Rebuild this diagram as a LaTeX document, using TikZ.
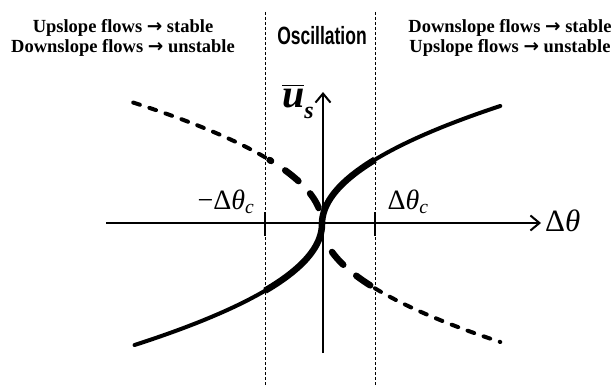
\documentclass[tikz,border=0pt]{standalone}
\usepackage{amsmath}
\usepackage{fontspec}
\setmainfont{Liberation Serif}
\newfontfamily\oscfont[FakeStretch=0.7]{Liberation Sans}
\newfontfamily\arrowfont{DejaVu Sans}
\newcommand{\toarr}{{\arrowfont\bfseries →}}
\usetikzlibrary{arrows.meta, positioning}

\begin{document}
\begin{tikzpicture}[
    x=1pt, y=-1pt,
    every node/.style={inner sep=0pt, align=center},
    axis/.style={line width=2pt, -{Straight Barb[length=9pt, width=15pt]}},
    guide/.style={line width=1pt, dash pattern=on 3pt off 2pt},
    tick/.style={line width=2.5pt},
    stab/.style={line width=6.5pt},
    stabthin/.style={line width=4pt, line cap=round},
    unst/.style={line width=6.5pt, line cap=round, dash pattern=on 17pt off 17pt},
    unstthin/.style={line width=4pt, line cap=round, dash pattern=on 7pt off 10pt},
    head/.style={font=\fontsize{18.5}{20}\selectfont\bfseries},
    lab/.style={font=\fontsize{31}{32}\selectfont}
]
\useasboundingbox (0,0) rectangle (615,385);

% Regime labels
\node[head] (upleft) at (123,38) {Upslope flows \toarr{} stable\\Downslope flows \toarr{} unstable};
\node[head] (upright) at (510,38) {Downslope flows \toarr{} stable\\Upslope flows \toarr{} unstable};
\node[font=\oscfont\fontsize{25}{26}\selectfont\bfseries] (osc) at (322,36) {Oscillation};

% Guides at the critical angle
\coordinate (gltop) at (265,12);
\coordinate (glbot) at (265,385);
\coordinate (grtop) at (375,12);
\coordinate (grbot) at (375,385);
\draw[guide] (gltop) -- (glbot);
\draw[guide] (grtop) -- (grbot);

% Axes
\coordinate (xl) at (106,223);
\coordinate (xr) at (541,223);
\coordinate (yb) at (323,353);
\coordinate (yt) at (323,92);
\draw[axis] (xl) -- (xr);
\draw[axis] (yb) -- (yt);
\draw[tick] (265,212) -- (265,236);
\draw[tick] (375,212) -- (375,236);

% Axis labels
\node[lab, anchor=west] (dth) at (545,221) {Δ\textit{θ}};
\node[font=\fontsize{28}{30}\selectfont] (dthr) at (408,202) {Δ\textit{θ}\textsubscript{\textit{c}}};
\node[font=\fontsize{28}{30}\selectfont] (dthl) at (226,202) {−Δ\textit{θ}\textsubscript{\textit{c}}};
\node (us) at (298,101) {{\fontsize{40}{42}\selectfont$\overline{\text{\bfseries\itshape u}}$}\raisebox{-11pt}{\fontsize{24}{26}\selectfont\bfseries\itshape s}};

% Stable branch
\draw[stab] plot[domain=-66.7:64.3, samples=60, variable=\t] ({322+0.0128*\t*abs(\t)}, {224-\t});
\draw[stabthin] plot[domain=64.3:118, samples=40, variable=\t] ({322+0.0128*\t*abs(\t)}, {224-\t});
\draw[stabthin] plot[domain=-66.7:-121, samples=40, variable=\t] ({322+0.0128*\t*abs(\t)}, {224-\t});

% Unstable branch
\draw[unst] plot[domain=16:64, samples=40, variable=\t] ({322-0.0128*\t*abs(\t)}, {224-\t});
\draw[unst] plot[domain=-28:-64.3, samples=40, variable=\t] ({322-0.0128*\t*abs(\t)}, {224-\t});
\draw[unstthin] plot[domain=66.7:124, samples=40, variable=\t] ({322-0.0128*\t*abs(\t)}, {224-\t});
\draw[unstthin] plot[domain=-64.3:-118, samples=40, variable=\t] ({322-0.0128*\t*abs(\t)}, {224-\t});

\end{tikzpicture}
\end{document}
